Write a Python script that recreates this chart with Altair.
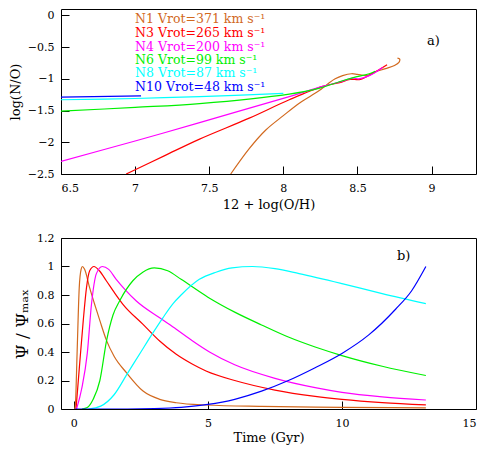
import altair as alt
import pandas as pd

SERIES = ["N1", "N3", "N4", "N6", "N8", "N10"]
COLORS = ["#D2691E", "#FF0000", "#FF00FF", "#00F000", "#00FFFF", "#0000FF"]
LEGEND_LABELS = [
    "N1 Vrot=371 km s\u207b\u00b9",
    "N3 Vrot=265 km s\u207b\u00b9",
    "N4 Vrot=200 km s\u207b\u00b9",
    "N6 Vrot=99 km s\u207b\u00b9",
    "N8 Vrot=87 km s\u207b\u00b9",
    "N10 Vrot=48 km s\u207b\u00b9",
]

# ---- panel a) : 12 + log(O/H)  vs  log(N/O)
OH_N1 = [7.645, 7.77, 7.88, 8.0, 8.11, 8.24, 8.30, 8.35, 8.40, 8.46, 8.50, 8.56, 8.62, 8.69, 8.75, 8.78, 8.785, 8.77]
NO_N1 = [-2.5, -2.10, -1.81, -1.58, -1.38, -1.19, -1.08, -1.00, -0.95, -0.92, -0.93, -0.95, -0.89, -0.84, -0.79, -0.74, -0.69, -0.675]
OH_N3 = [6.94, 7.2, 7.435, 7.77, 8.04, 8.265, 8.38, 8.45, 8.52, 8.60, 8.70]
NO_N3 = [-2.5, -2.21, -1.95, -1.62, -1.33, -1.12, -1.06, -1.01, -1.01, -0.92, -0.78]
OH_N4 = [6.5, 7.0, 7.435, 8.04, 8.265, 8.38, 8.47, 8.51, 8.58, 8.67]
NO_N4 = [-2.30, -1.98, -1.69, -1.28, -1.12, -1.05, -0.99, -1.00, -0.95, -0.82]
OH_N6 = [6.5, 7.0, 7.435, 8.04, 8.24, 8.40, 8.49, 8.58, 8.62]
NO_N6 = [-1.51, -1.45, -1.39, -1.24, -1.15, -1.03, -0.97, -0.92, -0.88]
OH_N8 = [6.5, 7.0, 7.435, 8.0]
NO_N8 = [-1.33, -1.31, -1.28, -1.23]
OH_N10 = [6.5, 7.04]
NO_N10 = [-1.29, -1.27]

# ---- panel b) : time (Gyr) vs Psi/Psi_max
T_N1 = [0.03, 0.06, 0.12, 0.2, 0.27, 0.32, 0.4, 0.59, 0.8, 0.97, 1.22, 1.5, 1.96, 2.58, 3.2, 3.82, 4.93, 7.0, 10.0, 13.13]
P_N1 = [0.0, 0.04, 0.39, 0.85, 0.98, 1.0, 0.98, 0.85, 0.72, 0.62, 0.48, 0.37, 0.255, 0.126, 0.068, 0.044, 0.028, 0.018, 0.012, 0.008]
T_N3 = [0.08, 0.2, 0.35, 0.47, 0.59, 0.75, 0.95, 1.21, 1.5, 1.83, 2.58, 3.2, 3.82, 4.43, 4.93, 6.0, 7.5, 9.0, 10.0, 11.5, 13.13]
P_N3 = [0.0, 0.28, 0.62, 0.85, 0.97, 1.0, 0.97, 0.9, 0.82, 0.735, 0.594, 0.477, 0.384, 0.314, 0.267, 0.2, 0.133, 0.089, 0.068, 0.045, 0.029]
T_N4 = [0.1, 0.3, 0.5, 0.66, 0.84, 1.06, 1.3, 1.58, 1.9, 2.33, 3.2, 3.82, 4.43, 5.06, 6.0, 7.5, 9.0, 10.0, 11.5, 13.13]
P_N4 = [0.0, 0.15, 0.39, 0.74, 0.95, 1.0, 0.98, 0.91, 0.84, 0.758, 0.64, 0.56, 0.477, 0.40, 0.31, 0.215, 0.15, 0.117, 0.085, 0.063]
T_N6 = [0.3, 0.5, 0.72, 0.97, 1.22, 1.46, 1.71, 2.2, 2.57, 3.0, 3.5, 4.0, 5.0, 6.0, 7.0, 8.0, 9.0, 10.0, 11.5, 13.13]
P_N6 = [0.0, 0.01, 0.068, 0.2, 0.48, 0.66, 0.76, 0.9, 0.96, 0.99, 0.97, 0.91, 0.785, 0.68, 0.59, 0.505, 0.435, 0.375, 0.30, 0.235]
T_N8 = [0.55, 1.0, 1.5, 2.0, 2.5, 2.9, 3.32, 3.7, 4.0, 4.68, 5.3, 5.9, 6.66, 7.5, 8.4, 10.0, 11.5, 13.13]
P_N8 = [0.0, 0.02, 0.1, 0.25, 0.4, 0.52, 0.64, 0.74, 0.8, 0.91, 0.96, 0.99, 1.0, 0.985, 0.95, 0.88, 0.81, 0.74]
T_N10 = [0.05, 1.0, 2.0, 3.0, 4.0, 5.0, 6.0, 7.0, 8.0, 9.0, 10.0, 11.0, 12.0, 12.6, 13.13]
P_N10 = [0.0, 0.0, 0.0, 0.003, 0.012, 0.032, 0.068, 0.125, 0.2, 0.29, 0.39, 0.52, 0.7, 0.83, 1.0]

# ---- axis tick labels
A_X_MAJOR = [6.5, 7, 7.5, 8, 8.5, 9]
A_Y_MAJOR = [-2.5, -2, -1.5, -1, -0.5, 0]
B_X_MAJOR = [0, 5, 10, 15]
B_Y_MAJOR = [0, 0.2, 0.4, 0.6, 0.8, 1, 1.2]

FONT = "DejaVu Serif"
TICK_LEN = 8


def long_df(xs, ys):
    rows = []
    for name, xv, yv in zip(SERIES, xs, ys):
        for i, (a, b) in enumerate(zip(xv, yv)):
            rows.append({"series": name, "x": a, "y": b, "order": i})
    return pd.DataFrame(rows)


df_a = long_df([OH_N1, OH_N3, OH_N4, OH_N6, OH_N8, OH_N10],
               [NO_N1, NO_N3, NO_N4, NO_N6, NO_N8, NO_N10])
df_b = long_df([T_N1, T_N3, T_N4, T_N6, T_N8, T_N10],
               [P_N1, P_N3, P_N4, P_N6, P_N8, P_N10])


def panel(df, xdom, ydom, W, H, xmaj, ymaj, xtitle, ytitle,
          ytitle_size, xtitle_pad, interp, texts):
    xs = alt.Scale(domain=xdom, nice=False, zero=False)
    ys = alt.Scale(domain=ydom, nice=False, zero=False)
    color = alt.Color("series:N", scale=alt.Scale(domain=SERIES, range=COLORS), legend=None)

    # axes shifted inward by the tick length so the ticks point into the frame
    lines = alt.Chart(df).mark_line(strokeWidth=1.2, clip=True, interpolate=interp).encode(
        x=alt.X("x:Q", scale=xs, axis=alt.Axis(
            orient="bottom", values=xmaj, format="~g", ticks=True, tickSize=TICK_LEN,
            tickColor="black", offset=-TICK_LEN, domain=False,
            labelPadding=8, title=xtitle, titlePadding=xtitle_pad)),
        y=alt.Y("y:Q", scale=ys, axis=alt.Axis(
            orient="left", values=ymaj, format="~g", ticks=True, tickSize=TICK_LEN,
            tickColor="black", offset=-TICK_LEN, domain=False,
            labelPadding=7, title=ytitle, titlePadding=5, titleFontSize=ytitle_size)),
        color=color,
        order="order:Q",
    )

    layers = [lines]
    for (tx, ty, label, col, size) in texts:
        layers.append(
            alt.Chart(pd.DataFrame({"k": [0]})).mark_text(
                align="left", baseline="middle", font=FONT, fontSize=size
            ).encode(
                x=alt.XDatum(tx, scale=xs, axis=None),
                y=alt.YDatum(ty, scale=ys, axis=None),
                text=alt.value(label),
                color=alt.value(col),
            )
        )
    return alt.layer(*layers).resolve_scale(
        x="independent", y="independent").properties(width=W, height=H)


legend_y = [round(-0.065 - 0.2128 * i, 3) for i in range(6)]
texts_a = [(7.0, yv, lab, col, 12.5) for yv, lab, col in zip(legend_y, LEGEND_LABELS, COLORS)]
texts_a.append((8.97, -0.404, "a)", "black", 13))
texts_b = [(12.05, 1.074, "b)", "black", 13)]

top = panel(df_a, [6.5, 9.3], [-2.5, 0.1], 415, 165, A_X_MAJOR, A_Y_MAJOR,
            "12 + log(O/H)", "log(N/O)", 13, 5, "catmull-rom", texts_a)
bottom = panel(df_b, [-0.48, 15], [0, 1.2], 415, 171, B_X_MAJOR, B_Y_MAJOR,
               "Time (Gyr)", "\u03a8 / \u03a8\u2098\u2090\u2093", 17, 3,
               "monotone", texts_b)

chart = alt.vconcat(top, bottom, spacing=19).properties(
    padding={"left": 0, "top": 0, "right": 0, "bottom": 0}
).configure_view(stroke="black", strokeWidth=1).configure_axis(
    grid=False, labelFont=FONT, titleFont=FONT, labelFontSize=11, titleFontSize=13,
    titleFontWeight="normal", labelColor="black", titleColor="black",
)

chart.save("out.html", embed_options={"renderer": "svg", "actions": False})
